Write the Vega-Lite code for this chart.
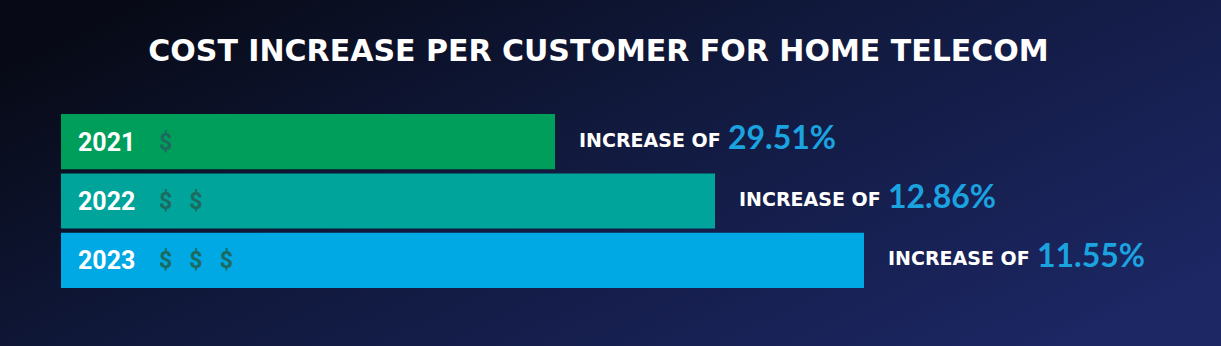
{
  "$schema": "https://vega.github.io/schema/vega-lite/v6.json",
  "width": 1221,
  "height": 346,
  "autosize": {"type": "none"},
  "padding": 0,
  "background": "#0b1024",
  "config": {
    "view": {
      "stroke": null,
      "fill": {
        "gradient": "linear",
        "x1": 0, "y1": 0.2, "x2": 1, "y2": 0.8,
        "stops": [
          {"offset": 0, "color": "#070a16"},
          {"offset": 0.4, "color": "#10183a"},
          {"offset": 1, "color": "#1c2764"}
        ]
      }
    }
  },
  "title": {
    "text": "COST INCREASE PER CUSTOMER FOR HOME TELECOM",
    "color": "#ffffff",
    "font": "DejaVu Sans",
    "fontSize": 30,
    "fontWeight": "bold",
    "anchor": "middle",
    "offset": 0,
    "baseline": "middle",
    "dy": 82,
    "dx": -12
  },
  "data": {
    "values": [
      {"year": "2021", "cost": 494, "dollars": "$", "pct": "29.51%"},
      {"year": "2022", "cost": 654, "dollars": "$\u00a0\u00a0\u00a0$", "pct": "12.86%"},
      {"year": "2023", "cost": 803, "dollars": "$\u00a0\u00a0\u00a0$\u00a0\u00a0\u00a0$", "pct": "11.55%"}
    ]
  },
  "encoding": {
    "y": {
      "field": "year",
      "type": "nominal",
      "axis": null,
      "scale": {"range": [114, 288], "paddingInner": 0.07, "paddingOuter": 0}
    }
  },
  "layer": [
    {
      "mark": {"type": "bar"},
      "encoding": {
        "x": {"field": "cost", "type": "quantitative", "axis": null, "scale": {"domain": [0, 1160], "range": [61, 1221], "nice": false}},
        "color": {
          "field": "year",
          "type": "nominal",
          "legend": null,
          "scale": {"domain": ["2021", "2022", "2023"], "range": ["#009e5b", "#00a49b", "#00a8e4"]}
        }
      }
    },
    {
      "mark": {"type": "text", "align": "left", "baseline": "middle", "dx": 17, "dy": 1, "font": "Roboto", "fontSize": 25, "fontWeight": "bold", "color": "#ffffff"},
      "encoding": {
        "x": {"datum": 0, "type": "quantitative"},
        "text": {"field": "year"}
      }
    },
    {
      "mark": {"type": "text", "align": "left", "baseline": "middle", "dx": 98, "dy": 1, "font": "Roboto", "fontSize": 23, "fontWeight": "bold", "color": "#1d6b5f"},
      "encoding": {
        "x": {"datum": 0, "type": "quantitative"},
        "text": {"field": "dollars"}
      }
    },
    {
      "mark": {"type": "text", "align": "left", "baseline": "middle", "dx": 24, "dy": -1, "font": "DejaVu Sans", "fontSize": 19, "fontWeight": "bold", "color": "#ffffff", "text": "INCREASE OF"},
      "encoding": {
        "x": {"field": "cost", "type": "quantitative"}
      }
    },
    {
      "mark": {"type": "text", "align": "left", "baseline": "middle", "dx": 173, "dy": -3, "font": "Lato", "fontSize": 32, "fontWeight": "bold", "color": "#1ba3e0"},
      "encoding": {
        "x": {"field": "cost", "type": "quantitative"},
        "text": {"field": "pct"}
      }
    }
  ]
}
